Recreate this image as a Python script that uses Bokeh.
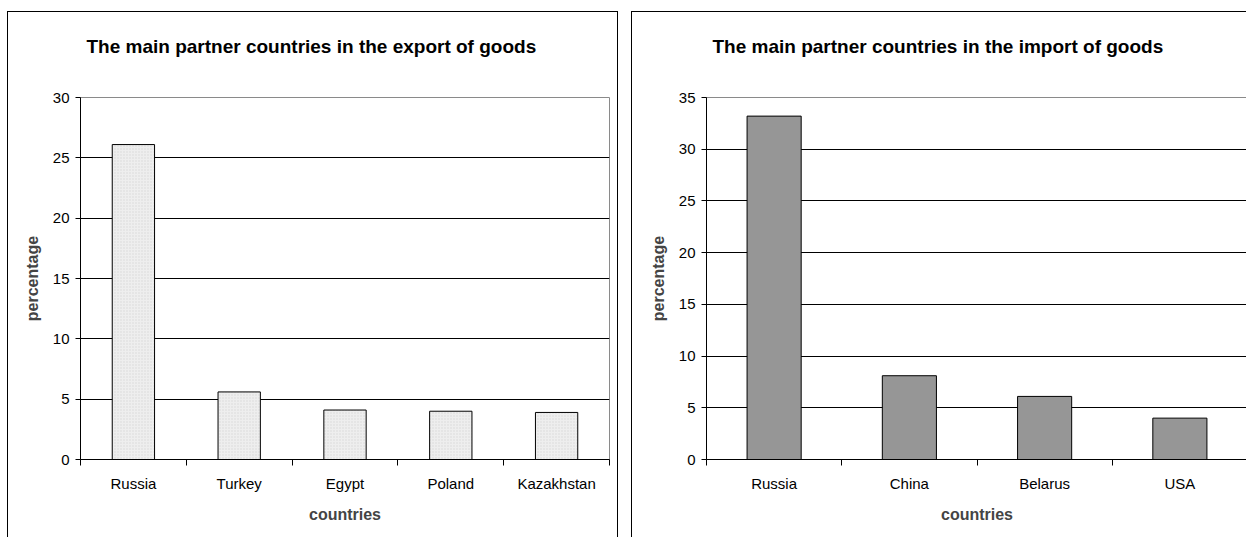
from bokeh.plotting import figure
from bokeh.models import (FactorRange, Range1d, LinearAxis, CategoricalAxis, FixedTicker,
                          Spacer, Grid, ColumnDataSource)
from bokeh.layouts import row, column
from bokeh.embed import file_html
from bokeh.resources import INLINE

# ---- data ----
export_countries = ["Russia", "Turkey", "Egypt", "Poland", "Kazakhstan"]
export_values = [26.1, 5.6, 4.1, 4.0, 3.9]
export_yticks = [0, 5, 10, 15, 20, 25, 30]
export_title = "The main partner countries in the export of goods"

import_countries = ["Russia", "China", "Belarus", "USA"]
import_values = [33.2, 8.1, 6.1, 4.0]
import_yticks = [0, 5, 10, 15, 20, 25, 30, 35]
import_title = "The main partner countries in the import of goods"

x_label = "countries"
y_label = "percentage"

FONT = "Liberation Sans"
FIG_H = 526


def make_panel(cats, vals, yticks, title, width, mb_left, mb_right, fill, hatch, styles, title_offset):
    n = len(cats)
    p = figure(x_range=FactorRange(*cats), y_range=Range1d(0, yticks[-1]),
               width=width, height=FIG_H, output_backend="svg", toolbar_location=None,
               x_axis_location=None, y_axis_location=None,
               min_border_left=mb_left, min_border_right=mb_right,
               min_border_top=85, min_border_bottom=79)
    p.grid.visible = False
    p.outline_line_color = "#8a8a8a"
    p.outline_line_width = 1
    p.background_fill_color = "white"
    p.border_fill_color = "white"

    # trailing blank line lifts the title towards the top of the panel
    p.title.text = title + "\n"
    p.title.align = "left"
    p.title.offset = title_offset
    p.title.text_font = FONT
    p.title.text_font_style = "bold"
    p.title.text_font_size = "19px"
    p.title.text_color = "black"
    if "standoff" in p.title.properties():
        p.title.standoff = 39

    grid = Grid(dimension=1, ticker=FixedTicker(ticks=yticks[:-1]),
                grid_line_color="black", grid_line_width=1)
    p.add_layout(grid)

    src = ColumnDataSource(dict(x=cats, top=vals))
    kw = dict(fill_color=fill, line_color="black", line_width=1)
    if hatch:
        kw.update(hatch_pattern="dot", hatch_color="#d6d6d6", hatch_scale=3, hatch_weight=1)
    p.vbar(x="x", top="top", bottom=0, width=0.4, source=src, **kw)

    yaxis = LinearAxis(ticker=FixedTicker(ticks=yticks))
    yaxis.axis_line_color = "black"
    yaxis.major_tick_line_color = "black"
    yaxis.major_tick_out = 5
    yaxis.major_tick_in = 0
    yaxis.minor_tick_line_color = None
    yaxis.major_label_standoff = 6
    yaxis.major_label_text_font = FONT
    yaxis.major_label_text_font_size = "15px"
    yaxis.major_label_text_color = "black"
    yaxis.axis_label = y_label
    yaxis.axis_label_text_font = FONT
    yaxis.axis_label_text_font_style = "bold"
    yaxis.axis_label_text_font_size = "16px"
    yaxis.axis_label_standoff = 9
    p.add_layout(yaxis, "left")

    # boundary ticks between the category slots (synthetic coordinates 0..n)
    tick_axis = LinearAxis(ticker=FixedTicker(ticks=list(range(n + 1))))
    tick_axis.axis_line_color = "black"
    tick_axis.major_tick_line_color = "black"
    tick_axis.major_tick_out = 6
    tick_axis.major_tick_in = 0
    tick_axis.minor_tick_line_color = None
    tick_axis.major_label_overrides = {i: "" for i in range(n + 1)}
    tick_axis.major_label_text_font_size = "0px"
    tick_axis.major_label_standoff = 0
    p.add_layout(tick_axis, "below")

    cat_axis = CategoricalAxis()
    cat_axis.axis_line_color = None
    cat_axis.major_tick_line_color = None
    cat_axis.minor_tick_line_color = None
    cat_axis.major_label_standoff = 3
    cat_axis.major_label_text_font = FONT
    cat_axis.major_label_text_font_size = "15px"
    cat_axis.major_label_text_color = "black"
    cat_axis.axis_label = x_label
    cat_axis.axis_label_text_font = FONT
    cat_axis.axis_label_text_font_style = "bold"
    cat_axis.axis_label_text_font_size = "16px"
    cat_axis.axis_label_standoff = 11
    p.add_layout(cat_axis, "below")

    p.styles = styles
    return p


p1 = make_panel(export_countries, export_values, export_yticks, export_title,
                width=611, mb_left=72, mb_right=10, fill="#eeeeee", hatch=True,
                styles={"border-left": "1px solid black", "border-top": "1px solid black",
                        "border-right": "1px solid black", "box-sizing": "border-box"},
                title_offset=6)
p2 = make_panel(import_countries, import_values, import_yticks, import_title,
                width=615, mb_left=74, mb_right=0, fill="#969696", hatch=False,
                styles={"border-left": "1px solid black", "border-top": "1px solid black",
                        "box-sizing": "border-box"},
                title_offset=6)

layout = column(Spacer(height=11),
                row(Spacer(width=7), p1, Spacer(width=13), p2))

open("out.html", "w").write(file_html(layout, INLINE))
